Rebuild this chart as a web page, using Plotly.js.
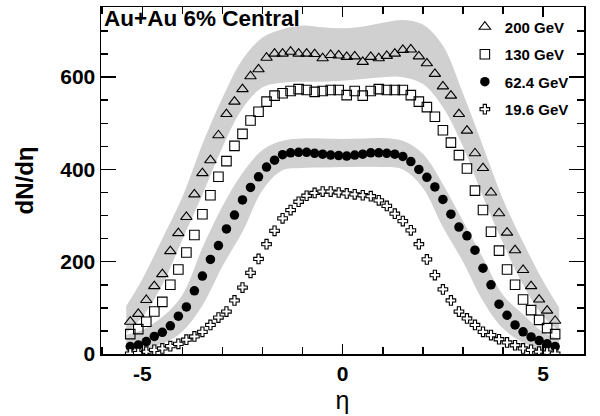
<!DOCTYPE html>
<html>
<head>
<meta charset="utf-8">
<script src="https://cdn.plot.ly/plotly-3.0.1.min.js"></script>
<style>html,body{margin:0;padding:0;background:#fff;}#chart{width:600px;height:416px;}</style>
</head>
<body>
<div id="chart"></div>
<script>
// pseudorapidity bin centres
var eta = [-5.3,-5.1,-4.9,-4.7,-4.5,-4.3,-4.1,-3.9,-3.7,-3.5,-3.3,-3.1,-2.9,-2.7,-2.5,-2.3,-2.1,-1.9,-1.7,-1.5,-1.3,-1.1,-0.9,-0.7,-0.5,-0.3,-0.1,
           0.1,0.3,0.5,0.7,0.9,1.1,1.3,1.5,1.7,1.9,2.1,2.3,2.5,2.7,2.9,3.1,3.3,3.5,3.7,3.9,4.1,4.3,4.5,4.7,4.9,5.1,5.3];

var dn200 = [70,87,117,147,173,223,262,297,346,392,420,474,520,547,574,602,617,642,651,651,655,651,651,650,641,648,647,
             644,645,633,644,641,646,651,659,660,645,630,607,580,560,520,484,435,403,350,305,263,225,182,147,118,94,72];
var dn130 = [43,54,70,92,113,150,183,220,258,303,344,384,418,451,477,506,525,547,560,565,570,574,572,568,570,572,572,
             561,570,560,570,574,572,572,572,561,547,535,514,485,458,431,402,354,312,265,224,183,150,118,95,74,56,43];
var dn62 = [16,19.5,27,38,47,61,82,102,137,169,205,235,271,301,334,361,384,405,420,432,436,437,437,435,433,431,430,
            429,431,433,436,436,435,433,428,417,400,383,362,335,303,275,256,225,186,150,108,84,63,48,37,29,22,16];
var dn19 = [1,2,5,9,12,17,22,31,38,48,63,79,92,116,144,176,206,238,267,294,312,330,343,349,352,352,350,
            348,346,344,342,333,321,304,288,268,238,205,171,140,116,92,77,63,48,41,32,25,19,12,9,5,3,1];

// systematic error bands (edges)
var bandEta  = [-5.4,-5,-4.5,-4,-3.5,-3,-2.5,-2,-1.5,-1,-0.5,0,0.5,1,1.5,2,2.5,3,3.5,4,4.5,5,5.4];
var band200Hi = [104,162,250,340,455,555,638,686,704,712,708,706,710,718,724,714,668,565,450,335,242,158,100];
var band200Lo = [45,80,150,248,345,448,532,578,588,590,590,592,596,600,600,585,535,450,340,240,150,82,50];
var band62Hi  = [42,52,80,128,230,320,392,442,462,467,467,466,467,468,462,434,368,288,208,128,86,47,33];
var band62Lo  = [0,10,22,49,105,190,265,355,398,403,404,405,406,405,400,360,275,200,115,55,25,10,0];

var seriesNames = ['200 GeV','130 GeV','62.4 GeV','19.6 GeV'];
var xTickVals = [-5,0,5];
var xTickText = ['-5','0','5'];

var FONT = 'Liberation Sans, Arial, Helvetica, sans-serif';
var bandColor = '#d0d0d0';

function bandTraces(lo, hi){
  return [
    {x: bandEta, y: lo, mode:'lines', line:{width:0, shape:'spline', color:bandColor}, showlegend:false, hoverinfo:'skip'},
    {x: bandEta, y: hi, mode:'lines', line:{width:0, shape:'spline', color:bandColor}, fill:'tonexty', fillcolor:bandColor, showlegend:false, hoverinfo:'skip'}
  ];
}

var traces = [].concat(
  bandTraces(band200Lo, band200Hi),
  bandTraces(band62Lo, band62Hi),
  [
    {x: eta, y: dn200, name: seriesNames[0], legendgroup:'a', mode:'markers',
     marker:{symbol:'triangle-up-open', size:10, color:'#000', line:{width:1.1, color:'#000'}}},
    {x: eta, y: dn130, name: seriesNames[1], legendgroup:'b', mode:'markers',
     marker:{symbol:'square-open', size:9.5, color:'#000', line:{width:1.1, color:'#000'}}},
    {x: eta, y: dn62, name: seriesNames[2], legendgroup:'c', mode:'markers',
     marker:{symbol:'circle', size:9.5, color:'#000', line:{width:0}}},
    {x: eta, y: dn19, name: seriesNames[3], legendgroup:'d', mode:'markers',
     marker:{symbol:'cross', size:8, color:'#fff', line:{width:1.1, color:'#000'}}}
  ]
);

var axisCommon = {
  showgrid:false, zeroline:false, showline:true, linecolor:'#000', linewidth:1.5,
  mirror:'ticks', ticks:'inside', tickcolor:'#000', tickwidth:1.5,
  tickfont:{family:FONT, size:21, color:'#000', weight:'bold'}
};

var layout = {
  width:600, height:416,
  margin:{l:101, r:16, t:7, b:62},
  paper_bgcolor:'#fff', plot_bgcolor:'#fff',
  showlegend:true,
  title:{text:'Au+Au 6% Central', x:104/600, xanchor:'left', xref:'container', y:1-18/416, yanchor:'middle', yref:'container',
         font:{family:FONT, size:22.5, color:'#000', weight:'bold'}},
  xaxis: Object.assign({}, axisCommon, {
    range:[-6.03, 6.02], tickmode:'array', tickvals:xTickVals, ticktext:xTickText, ticklen:10,
    minor:{dtick:1, tick0:0, ticklen:7, tickwidth:1.5, tickcolor:'#000', ticks:'inside', showgrid:false},
    title:{text:'η', font:{family:FONT, size:25, color:'#000'}, standoff:8}
  }),
  yaxis: Object.assign({}, axisCommon, {
    range:[0, 752], dtick:200, tick0:0, ticklen:15,
    minor:{dtick:50, tick0:0, ticklen:7, tickwidth:1.5, tickcolor:'#000', ticks:'inside', showgrid:false},
    title:{text:'dN/dη', font:{family:FONT, size:24, color:'#000', weight:'bold'}, standoff:20}
  }),
  legend:{x:0.979, xanchor:'right', y:0.99, yanchor:'top', bgcolor:'rgba(0,0,0,0)', borderwidth:0,
          font:{family:FONT, size:15, color:'#000', weight:'bold'}, traceorder:'grouped', tracegroupgap:5, itemwidth:30}
};

Plotly.newPlot('chart', traces, layout, {staticPlot:true, displayModeBar:false});
</script>
</body>
</html>
